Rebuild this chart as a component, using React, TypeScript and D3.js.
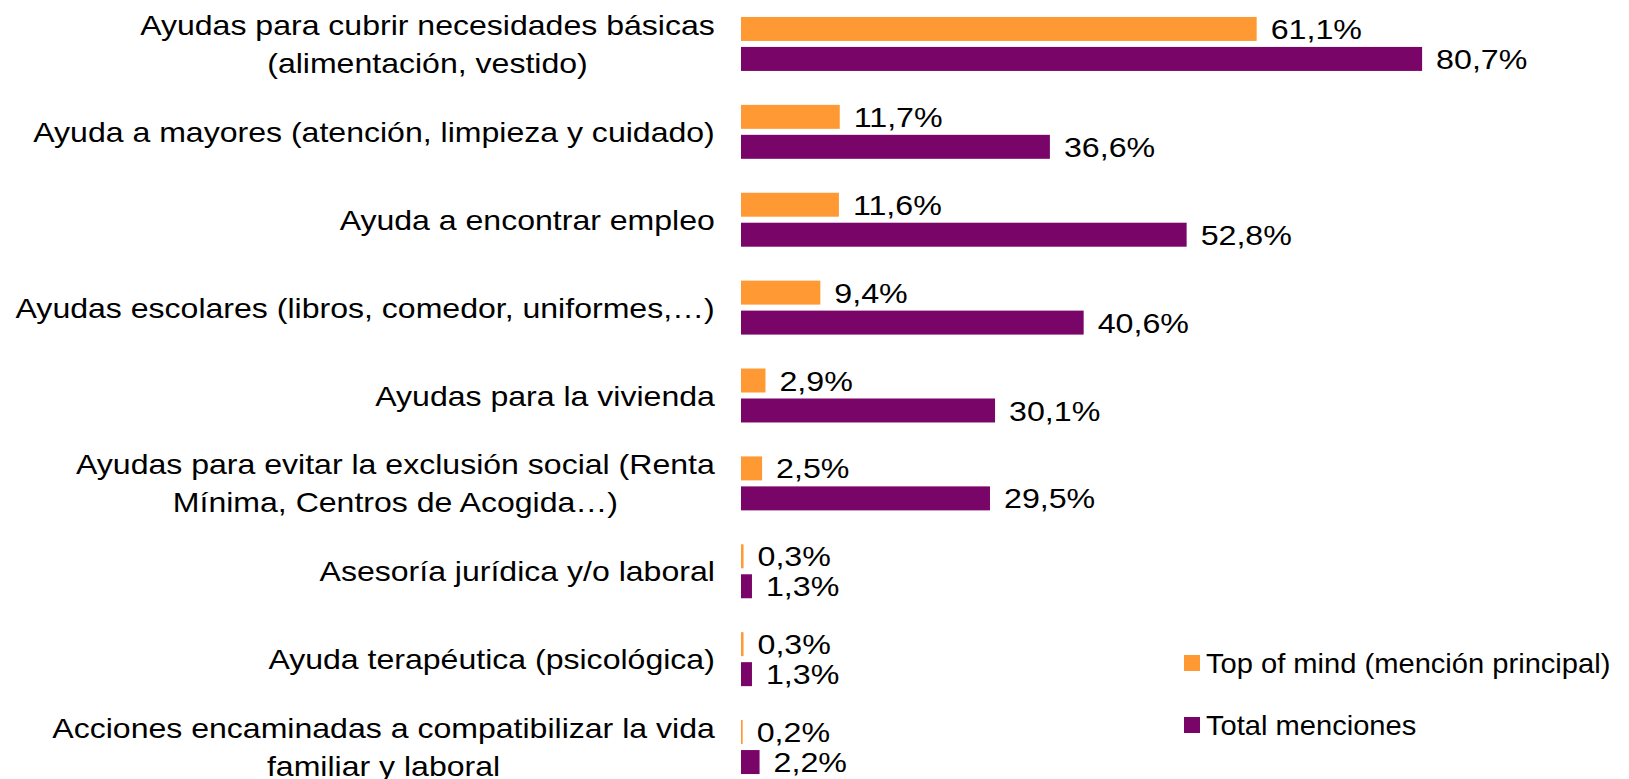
import React, { useEffect, useRef } from "react";
import * as d3 from "d3";

const categories: string[][] = [
  ["Ayudas para cubrir necesidades básicas", "(alimentación, vestido)"],
  ["Ayuda a mayores (atención, limpieza y cuidado)"],
  ["Ayuda a encontrar empleo"],
  ["Ayudas escolares (libros, comedor, uniformes,…)"],
  ["Ayudas para la vivienda"],
  ["Ayudas para evitar la exclusión social (Renta", "Mínima, Centros de Acogida…)"],
  ["Asesoría jurídica y/o laboral"],
  ["Ayuda terapéutica (psicológica)"],
  ["Acciones encaminadas a compatibilizar la vida", "familiar y laboral"],
];

const topOfMind: number[] = [61.1, 11.7, 11.6, 9.4, 2.9, 2.5, 0.3, 0.3, 0.2];
const totalMenciones: number[] = [80.7, 36.6, 52.8, 40.6, 30.1, 29.5, 1.3, 1.3, 2.2];

const seriesNames: string[] = ["Top of mind (mención principal)", "Total menciones"];
const seriesColors: string[] = ["#FF9933", "#7A0569"];

const W = 1629;
const H = 779;
const FONT = "'Liberation Sans', Arial, sans-serif";
const FS = 28;
const SX_CAT = 1.145;
const SX_VAL = 1.15;
const SX_LEG = 1.04;

export default function App() {
  const ref = useRef<SVGSVGElement | null>(null);

  useEffect(() => {
    const svg = d3.select(ref.current);
    svg.selectAll("*").remove();

    const series = [topOfMind, totalMenciones];

    const x = d3.scaleLinear().domain([0, 100]).range([741, 1585]);
    const y = d3
      .scaleBand<number>()
      .domain(d3.range(categories.length))
      .range([0, 791])
      .paddingInner(0.386)
      .paddingOuter(0.193);
    const ySub = d3
      .scaleBand<number>()
      .domain([0, 1])
      .range([0, y.bandwidth()])
      .paddingInner(0.2);

    // bars
    series.forEach((vals, s) => {
      const g = svg.append("g");
      g.selectAll("rect")
        .data(vals)
        .join("rect")
        .attr("x", x(0))
        .attr("y", (_, i) => (y(i) as number) + (ySub(s) as number))
        .attr("width", (v) => x(v) - x(0))
        .attr("height", ySub.bandwidth())
        .attr("fill", seriesColors[s]);

      g.selectAll("text")
        .data(vals)
        .join("text")
        .attr(
          "transform",
          (v, i) =>
            `translate(${x(v) + 14},${(y(i) as number) + (ySub(s) as number) + ySub.bandwidth() / 2}) scale(${SX_VAL},1)`
        )
        .attr("dy", "0.36em")
        .attr("font-family", FONT)
        .attr("font-size", FS)
        .attr("fill", "#000")
        .text((v) => d3.format(".1f")(v).replace(".", ",") + "%");
    });

    // category labels
    const labelRight = 715;
    const lineGap = 38;
    categories.forEach((lines, i) => {
      const cy = (y(i) as number) + y.bandwidth() / 2;
      const g = svg.append("g");
      const texts = lines.map((line) =>
        g
          .append("text")
          .attr("font-family", FONT)
          .attr("font-size", FS)
          .attr("fill", "#000")
          .attr("text-anchor", "middle")
          .attr("dy", "0.36em")
          .text(line)
      );
      const maxW =
        d3.max(texts, (t) => (t.node() as SVGTextElement).getComputedTextLength()) || 0;
      const cx = labelRight - (maxW * SX_CAT) / 2;
      texts.forEach((t, k) => {
        const ly = cy + (k - (lines.length - 1) / 2) * lineGap;
        t.attr("transform", `translate(${cx},${ly}) scale(${SX_CAT},1)`);
      });
    });

    // legend
    const legendY = [663, 725];
    seriesNames.forEach((name, s) => {
      svg
        .append("rect")
        .attr("x", 1184)
        .attr("y", legendY[s] - 8)
        .attr("width", 16)
        .attr("height", 16)
        .attr("fill", seriesColors[s]);
      svg
        .append("text")
        .attr("transform", `translate(1206,${legendY[s]}) scale(${SX_LEG},1)`)
        .attr("dy", "0.36em")
        .attr("font-family", FONT)
        .attr("font-size", FS)
        .attr("fill", "#000")
        .text(name);
    });
  }, []);

  return (
    <svg
      ref={ref}
      width={W}
      height={H}
      style={{ position: "absolute", left: 0, top: 0, background: "#fff" }}
    />
  );
}
